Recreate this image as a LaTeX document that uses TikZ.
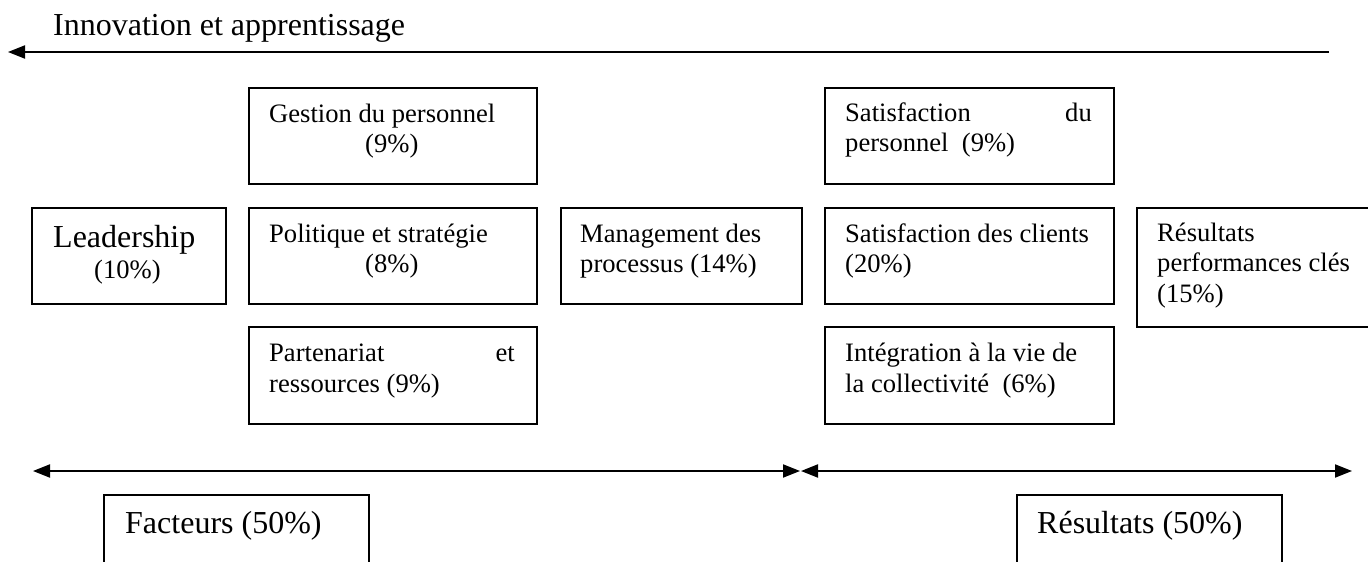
\documentclass[tikz,border=0pt]{standalone}
\usepackage{fontspec}
\setmainfont{Liberation Serif}
\usetikzlibrary{arrows.meta}
\begin{document}
\begin{tikzpicture}[x=1pt,y=-1pt,
  box/.style={draw, line width=1.6pt, rectangle, inner sep=0pt, anchor=north west},
  txt/.style={inner sep=0pt, anchor=base west, font=\fontsize{26.6}{30}\selectfont},
  txtr/.style={inner sep=0pt, anchor=base east, font=\fontsize{26.6}{30}\selectfont},
  big/.style={inner sep=0pt, anchor=base west, font=\fontsize{32}{36}\selectfont},
  tip/.tip={Triangle[length=17pt,width=13pt]},
  arr/.style={line width=2pt},
]
\path[use as bounding box, clip] (0,0) rectangle (1368,562);

% top arrow
\coordinate (ts) at (1329,52);
\coordinate (te) at (8,52);
\draw[arr,-tip] (ts) -- (te);
\node[big] (inno) at (53,35) {Innovation et apprentissage};

% boxes
\node[box, minimum width=194, minimum height=96] (lead) at (31,207) {};
\node[box, minimum width=288, minimum height=96] (gest) at (248,87) {};
\node[box, minimum width=288, minimum height=96] (poli) at (248,207) {};
\node[box, minimum width=288, minimum height=97] (part) at (248,326) {};
\node[box, minimum width=241, minimum height=96] (mgmt) at (560,207) {};
\node[box, minimum width=289, minimum height=96] (spers) at (824,87) {};
\node[box, minimum width=289, minimum height=96] (scli) at (824,207) {};
\node[box, minimum width=289, minimum height=97] (integ) at (824,326) {};
\node[box, minimum width=260, minimum height=119] (rperf) at (1136,207) {};
\node[box, minimum width=265, minimum height=100] (fact) at (103,494) {};
\node[box, minimum width=265, minimum height=100] (res) at (1016,494) {};

% texts
\node[big] (leadA) at (53,247) {Leadership};
\node[txt] (leadB) at (94,278) {(10\%)};
\node[txt] (gestA) at (269,122) {Gestion du personnel};
\node[txt] (gestB) at (365,152) {(9\%)};
\node[txt] (poliA) at (269,242) {Politique et stratégie};
\node[txt] (poliB) at (365,272) {(8\%)};
\node[txt] (partA) at (269,361) {Partenariat};
\node[txtr] (partA2) at (515,361) {et};
\node[txt] (partB) at (269,392) {ressources (9\%)};
\node[txt] (mgmtA) at (580,242) {Management des};
\node[txt] (mgmtB) at (580,272) {processus (14\%)};
\node[txt] (spersA) at (845,121) {Satisfaction};
\node[txtr] (spersA2) at (1092,121) {du};
\node[txt] (spersB) at (845,151) {personnel\ \ (9\%)};
\node[txt] (scliA) at (845,242) {Satisfaction des clients};
\node[txt] (scliB) at (845,272) {(20\%)};
\node[txt] (integA) at (845,361) {Intégration à la vie de};
\node[txt] (integB) at (845,392) {la collectivité\ \ (6\%)};
\node[txt] (rperfA) at (1157,241) {Résultats};
\node[txt] (rperfB) at (1157,271) {performances clés};
\node[txt] (rperfC) at (1157,302) {(15\%)};
\node[big] (factT) at (125,533) {Facteurs (50\%)};
\node[big] (resT) at (1037,533) {Résultats (50\%)};

% bottom arrows
\coordinate (l1) at (33,471);
\coordinate (m1) at (800,471);
\coordinate (m2) at (801,471);
\coordinate (r1) at (1352,471);
\draw[arr,tip-tip] (l1) -- (m1);
\draw[arr,tip-tip] (m2) -- (r1);
\end{tikzpicture}
\end{document}
